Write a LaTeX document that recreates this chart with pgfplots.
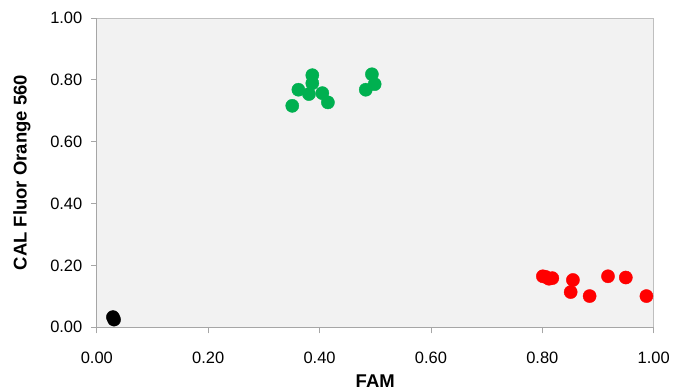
\documentclass[border=0pt]{standalone}
\usepackage{pgfplots}
\pgfplotsset{compat=1.18}
\usepackage{fontspec}
\setmainfont{Liberation Sans}
\definecolor{plotbg}{HTML}{F2F2F2}
\definecolor{axisgray}{HTML}{A6A6A6}
\definecolor{bordergray}{HTML}{BFBFBF}
\definecolor{grp1}{HTML}{00B050}
\definecolor{grp2}{HTML}{FF0000}
\begin{document}
\begin{tikzpicture}
\begin{axis}[
  scale only axis,
  width=558bp, height=310bp,
  xmin=0, xmax=1, ymin=0, ymax=1,
  xtick={0,0.2,...,1.01}, ytick={0,0.2,...,1.01},
  axis background/.style={fill=plotbg, draw=bordergray, line width=0.8pt},
  axis x line*=bottom, axis y line*=left,
  axis line style={draw=axisgray, line width=0.8pt},
  tick style={draw=axisgray, line width=0.8pt},
  tick align=outside, major tick length=6bp,
  /pgf/number format/.cd, fixed, fixed zerofill, precision=2, assume math mode=true,
  /pgfplots/.cd,
  tick label style={font=\fontsize{16.5bp}{19bp}\selectfont, text=black},
  xticklabel style={yshift=-15bp},
  yticklabel style={xshift=-5bp},
  xlabel={FAM},
  ylabel={CAL Fluor Orange 560},
  every axis x label/.style={at={(axis description cs:0.5,0)}, yshift=-54bp, anchor=center,
    font=\fontsize{18.5bp}{22bp}\selectfont\bfseries},
  every axis y label/.style={at={(axis description cs:0,0.5)}, xshift=-75bp, rotate=90, anchor=center,
    font=\fontsize{18.5bp}{22bp}\selectfont\bfseries},
  clip=false,
]
\addplot[only marks, mark=*, mark size=6.6bp, color=grp1] coordinates {
  (0.351,0.716) (0.362,0.768) (0.387,0.815) (0.387,0.789) (0.381,0.754)
  (0.405,0.757) (0.415,0.727) (0.483,0.768) (0.494,0.818) (0.499,0.786)
};
\addplot[only marks, mark=*, mark size=6.6bp, color=grp2] coordinates {
  (0.801,0.165) (0.806,0.163) (0.812,0.157) (0.818,0.159) (0.855,0.153)
  (0.851,0.114) (0.885,0.101) (0.918,0.165) (0.950,0.161) (0.987,0.101)
};
\addplot[only marks, mark=*, mark size=6.6bp, color=black] coordinates {
  (0.029,0.033) (0.031,0.025)
};
\coordinate (sw) at (rel axis cs:0,0);
\end{axis}
\path[use as bounding box] (sw) ++(-97bp,-63bp) rectangle ++(673bp,391bp);
\end{tikzpicture}
\end{document}
